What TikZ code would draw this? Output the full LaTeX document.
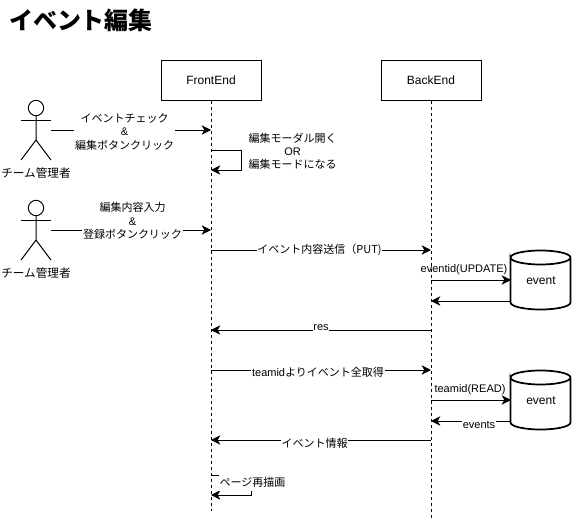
\documentclass[tikz,border=0pt]{standalone}
\usepackage{fontspec}
\setmainfont{Liberation Sans}
\newfontfamily\cjk{Noto Sans CJK JP}
\usetikzlibrary{arrows.meta}
\tikzset{
	lifebox/.style = {draw, minimum width = 75pt, minimum height = 30pt, inner sep = 0pt, font = \fontsize{9}{11}\selectfont},
	dbnode/.style = {minimum width = 45pt, minimum height = 44.25pt, inner sep = 0pt, font = \fontsize{9}{11}\selectfont},
	dbline/.style = {line width = 1.3pt},
	lifeline/.style = {dash pattern = on 2.25pt off 2.25pt},
	msg/.style = {-{Stealth[length = 7pt, width = 7pt, inset = 2pt]}},
	txt/.style = {align = center, font = \fontsize{8.25}{9.9}\selectfont, inner sep = 0.6pt},
	msgtxt/.style = {txt, fill = white},
	actorhead/.style = {draw, circle, minimum size = 11.5pt, inner sep = 0pt}
}
\begin{document}
\begin{tikzpicture}[x = 0.75pt, y = -0.75pt, line width = 0.75pt]
	\useasboundingbox (0,0) rectangle (572,521);
	\node (title) at (81,20) {\fontsize{18}{20}\selectfont\cjk\bfseries イベント編集};
	% lifelines
	\node [lifebox] (front) at (211,80.5) {FrontEnd};
	\node [lifebox] (back) at (431,80.5) {BackEnd};
	\coordinate (frontend) at (211,511);
	\coordinate (backend) at (431,518);
	\draw [lifeline] (front) -- (frontend);
	\draw [lifeline] (back) -- (backend);
	% points on the lifelines
	\foreach \y in {130,150,170,230,250,330,370,440,475,495}{
	\coordinate (f\y) at (211,\y);
	}
	\foreach \y in {250,280,301,330,370,400,421,440}{
	\coordinate (b\y) at (431,\y);
	}
	% actors
	\foreach \n/\y in {one/108,two/208}{
	\node [actorhead] (head\n) at (36,\y) {};
	\coordinate (hip\n) at (36,\y+32);
	\coordinate (side\n) at (51,\y+22);
	\draw (head\n) -- (hip\n) -- (21,\y+52);
	\draw (hip\n) -- (51,\y+52);
	\draw (21,\y+12) -- (51,\y+12);
	\node [txt, font = \fontsize{8.7}{10}\selectfont] (label\n) at (36,\y+65) {\cjk チーム管理者};
	}
	% databases
	\node [dbnode] (dbone) at (541,280.5) {event};
	\node [dbnode] (dbtwo) at (541,400.5) {event};
	\foreach \n in {dbone,dbtwo}{
	\draw [dbline] (\n.north west) ++(0,7) arc [start angle = 180, end angle = -180, x radius = 22.5pt, y radius = 5.25pt] -- ++(0,45) arc [start angle = 180, end angle = 360, x radius = 22.5pt, y radius = 5.25pt] -- ++(0,-45);
	}
	\coordinate (dbone280) at (511,280);
	\coordinate (dbone301) at (511,301);
	\coordinate (dbtwo400) at (511,400);
	\coordinate (dbtwo421) at (511,421);
	% messages
	\draw [msg] (sideone) -- (f130);
	\node [msgtxt] (check) at (124.5,132) {\cjk イベントチェック\\\&\\\cjk 編集ボタンクリック};
	\draw [msg] (f150) -- ++(30,0) -- ++(0,20) -- (f170);
	\node [txt] (modal) at (292.5,151.5) {\cjk 編集モーダル開く\\OR\\\cjk 編集モードになる};
	\draw [msg] (sidetwo) -- (f230);
	\node [msgtxt] (input) at (132.5,221) {\cjk 編集内容入力\\\&\\\cjk 登録ボタンクリック};
	\draw [msg] (f250) -- (b250);
	\node [msgtxt] (put) at (319.5,250) {\cjk イベント内容送信（PUT)};
	\draw [msg] (b280) -- (dbone280);
	\node [txt] (update) at (464,270) {eventid(UPDATE)};
	\draw [msg] (dbone301) -- (b301);
	\draw [msg] (b330) -- (f330);
	\node [msgtxt] (res) at (321,328) {res};
	\draw [msg] (f370) -- (b370);
	\node [msgtxt] (getall) at (318,372.5) {teamid{\cjk よりイベント全取得}};
	\draw [msg] (b400) -- (dbtwo400);
	\node [txt] (read) at (470,390) {teamid(READ)};
	\draw [msg] (dbtwo421) -- (b421);
	\node [msgtxt] (events) at (479,425) {events};
	\draw [msg] (b440) -- (f440);
	\node [msgtxt] (info) at (314.5,443) {\cjk イベント情報};
	\draw [msg] (f475) -- ++(40,0) -- ++(0,20) -- (f495);
	\node [msgtxt, inner ysep = 3pt] (redraw) at (252.5,482) {\cjk ページ再描画};
\end{tikzpicture}
\end{document}
